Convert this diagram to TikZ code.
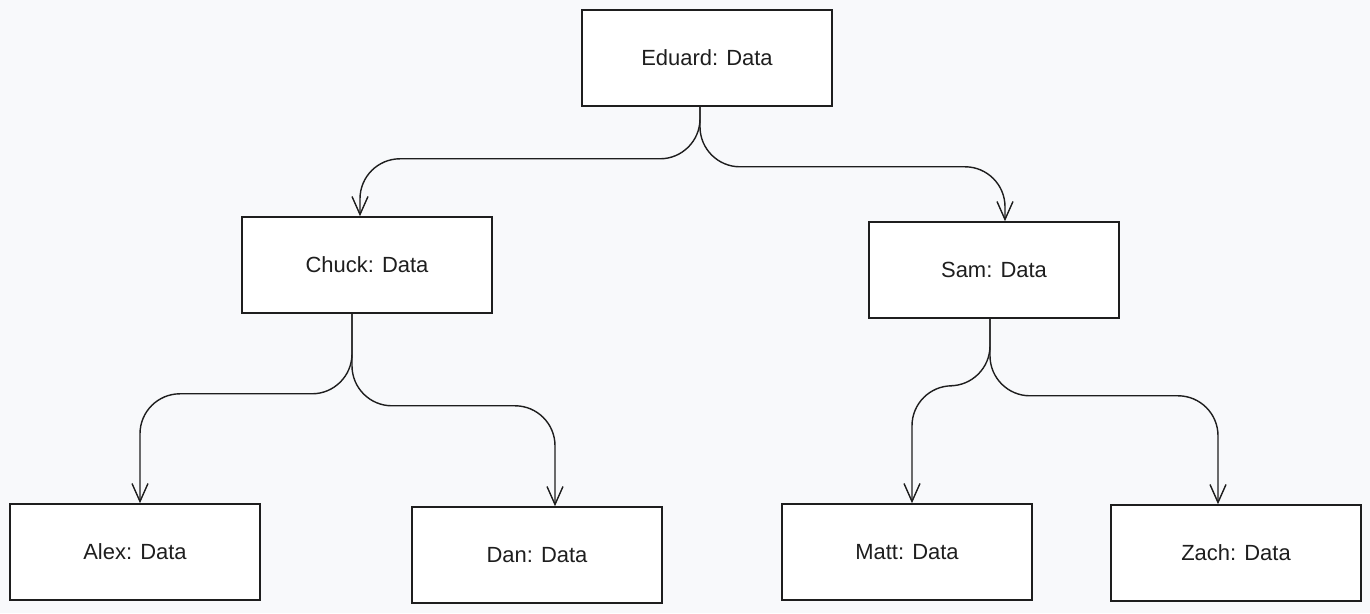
\documentclass[tikz,border=0pt]{standalone}
\usepackage{fontspec}
\setmainfont{Liberation Sans}
\usepackage{tikz}
\usetikzlibrary{calc}
\usetikzlibrary{arrows.meta}
\usetikzlibrary{positioning}
\definecolor{paper}{HTML}{F8F9FB}
\definecolor{ink}{HTML}{1E1E1E}

\begin{document}
\begin{tikzpicture}[
		x=0.02cm, y=-0.02cm,
		MyBox/.style={draw=ink,fill=white,line width=0.9pt,minimum width=5cm,minimum height=1.92cm,inner sep=0pt,font=\fontsize{12.5}{15}\selectfont,text=ink},
		MyArrow/.style={draw=ink,line width=0.8pt,rounded corners=0.8cm,-{Straight Barb[length=3.6mm,width=3.2mm,line width=0.8pt]}},
		every node/.style={scale=1}
		]

		\useasboundingbox[fill=paper] (0,0) rectangle (1370,613);

		% the tree of nodes
		\node[MyBox] (eduard) at (707,58) {Eduard: Data};
		\node[MyBox] (chuck) at (367,265) {Chuck: Data};
		\node[MyBox] (sam) at (994,270) {Sam: Data};
		\node[MyBox] (alex) at (135,552) {Alex: Data};
		\node[MyBox] (dan) at (537,555) {Dan: Data};
		\node[MyBox] (matt) at (907,552) {Matt: Data};
		\node[MyBox] (zach) at (1236,553) {Zach: Data};

		% links from parent to children
		\draw[MyArrow] ($(eduard.south)+(-7,0)$) -- ++(0,52) -| ($(chuck.north)+(-7,0)$);
		\draw[MyArrow] ($(eduard.south)+(-7,0)$) -- ++(0,60) -| ($(sam.north)+(11,0)$);

		\draw[MyArrow] ($(chuck.south)+(-15,0)$) -- ++(0,80) -| ($(alex.north)+(5,0)$);
		\draw[MyArrow] ($(chuck.south)+(-15,0)$) -- ++(0,92) -| ($(dan.north)+(18,0)$);

		\draw[MyArrow] ($(sam.south)+(-4,0)$) -- ++(0,67) -| ($(matt.north)+(5,0)$);
		\draw[MyArrow] ($(sam.south)+(-4,0)$) -- ++(0,77) -| ($(zach.north)+(-18,0)$);

		\end{tikzpicture}
\end{document}
